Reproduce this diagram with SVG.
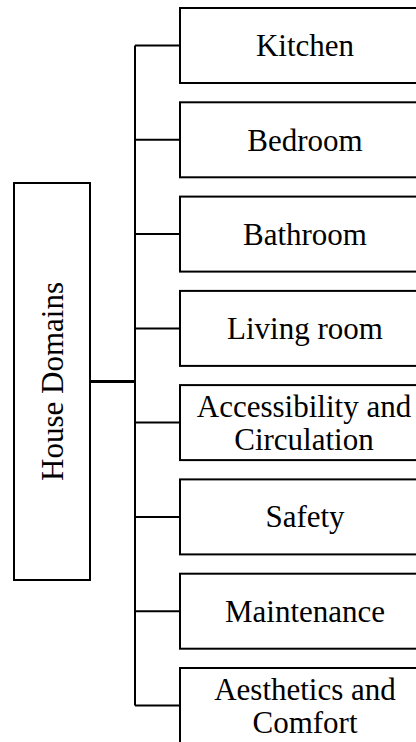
<svg xmlns="http://www.w3.org/2000/svg" width="416" height="742" viewBox="0 0 416 742">
  <style>
    .box { fill: #ffffff; stroke: #000000; stroke-width: 2; }
    .lbl { font-family: "Liberation Serif", "Times New Roman", serif; font-size: 31px; fill: #000000; text-anchor: middle; }
    .wire { fill: none; stroke: #000000; stroke-width: 2; }
    .trunk { fill: none; stroke: #000000; stroke-width: 3; }
  </style>
  <rect width="416" height="742" fill="#ffffff"/>

  <!-- connectors -->
  <g id="connectors">
    <line class="trunk" x1="90" y1="381.5" x2="135" y2="381.5"/>
    <line class="wire" x1="135" y1="45.5" x2="135" y2="705.5"/>
    <line class="wire" x1="135" y1="45.5" x2="180" y2="45.5"/>
    <line class="wire" x1="135" y1="139.8" x2="180" y2="139.8"/>
    <line class="wire" x1="135" y1="234.1" x2="180" y2="234.1"/>
    <line class="wire" x1="135" y1="328.4" x2="180" y2="328.4"/>
    <line class="wire" x1="135" y1="422.6" x2="180" y2="422.6"/>
    <line class="wire" x1="135" y1="516.9" x2="180" y2="516.9"/>
    <line class="wire" x1="135" y1="611.2" x2="180" y2="611.2"/>
    <line class="wire" x1="135" y1="705.5" x2="180" y2="705.5"/>
  </g>

  <!-- root -->
  <g id="house-domains">
    <rect class="box" x="14" y="183" width="76" height="397"/>
    <text class="lbl" transform="translate(63,381.5) rotate(-90)" x="0" y="0">House Domains</text>
  </g>

  <!-- domains -->
  <g id="kitchen">
    <rect class="box" x="180" y="8" width="250" height="75"/>
    <text class="lbl" x="305" y="56">Kitchen</text>
  </g>
  <g id="bedroom">
    <rect class="box" x="180" y="102.3" width="250" height="75"/>
    <text class="lbl" x="305" y="150.5">Bedroom</text>
  </g>
  <g id="bathroom">
    <rect class="box" x="180" y="196.6" width="250" height="75"/>
    <text class="lbl" x="305" y="244.8">Bathroom</text>
  </g>
  <g id="living-room">
    <rect class="box" x="180" y="290.9" width="250" height="75"/>
    <text class="lbl" x="305" y="339.1">Living room</text>
  </g>
  <g id="accessibility">
    <rect class="box" x="180" y="385.1" width="250" height="75"/>
    <text class="lbl" x="304" y="416.7">Accessibility and</text>
    <text class="lbl" x="304" y="450">Circulation</text>
  </g>
  <g id="safety">
    <rect class="box" x="180" y="479.4" width="250" height="75"/>
    <text class="lbl" x="305" y="527">Safety</text>
  </g>
  <g id="maintenance">
    <rect class="box" x="180" y="573.7" width="250" height="75"/>
    <text class="lbl" x="305" y="621.5">Maintenance</text>
  </g>
  <g id="aesthetics">
    <rect class="box" x="180" y="668" width="250" height="75"/>
    <text class="lbl" x="305" y="700">Aesthetics and</text>
    <text class="lbl" x="305" y="733">Comfort</text>
  </g>
</svg>
